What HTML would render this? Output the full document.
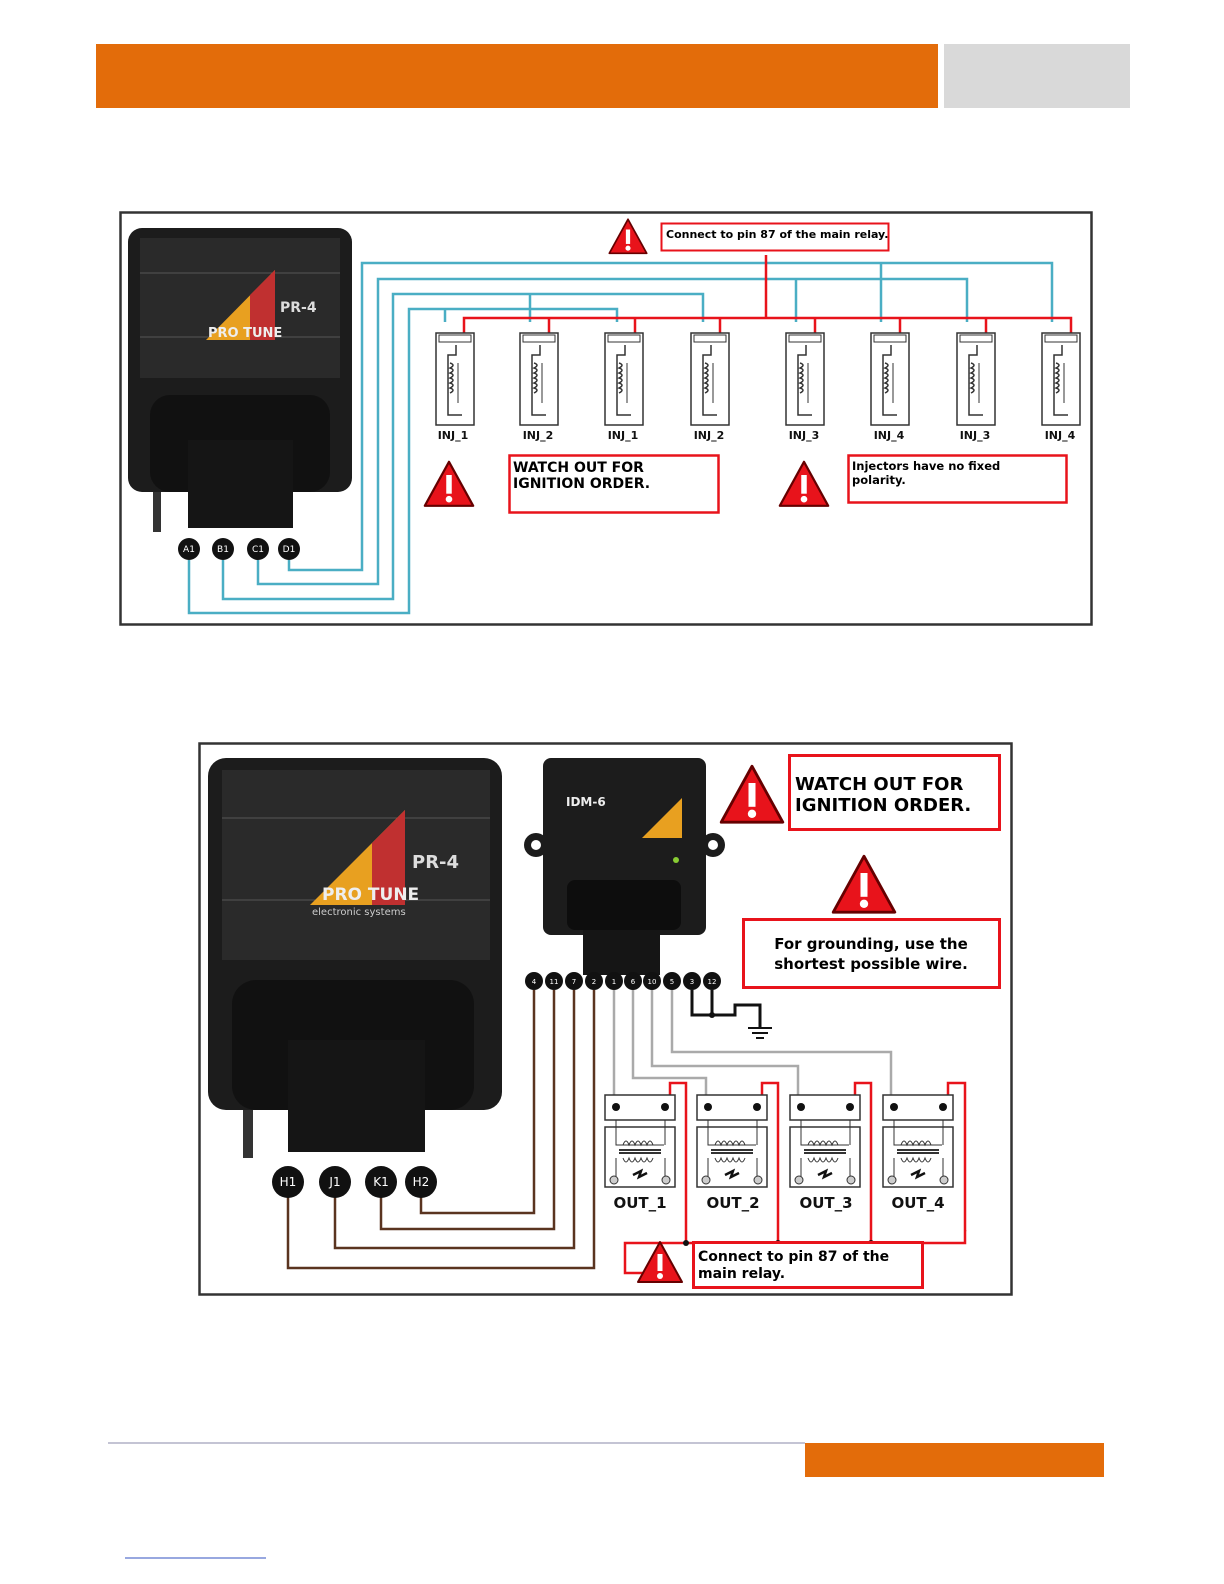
<!DOCTYPE html>
<html><head><meta charset="utf-8"><style>
body{margin:0;background:#fff;}
svg{display:block;font-family:"DejaVu Sans","Liberation Sans",sans-serif;}
</style></head><body>
<svg width="1224" height="1584" viewBox="0 0 1224 1584" xmlns="http://www.w3.org/2000/svg">
<defs>
<g id="tri"><path d="M0,-22 L22,18 L-22,18 Z" fill="#e8131b" stroke="#600" stroke-width="2" stroke-linejoin="round"/><rect x="-2.5" y="-10" width="5" height="17" fill="#fff"/><circle cx="0" cy="12" r="3" fill="#fff"/></g>
<g id="inj"><rect x="0" y="0" width="38" height="92" fill="#fff" stroke="#333" stroke-width="1.5"/><rect x="3" y="2" width="32" height="7" fill="#fff" stroke="#333"/><path d="M20,12 v10 h-8 v60 h14" fill="none" stroke="#333" stroke-width="1.5"/><path d="M14,30 q6,2 0,5 q6,2 0,5 q6,2 0,5 q6,2 0,5 q6,2 0,5 q6,2 0,5" fill="none" stroke="#333" stroke-width="1.5"/><line x1="22" y1="30" x2="22" y2="70" stroke="#333"/></g>
<g id="coil"><rect x="0" y="0" width="70" height="25" fill="#fff" stroke="#333" stroke-width="1.5"/><circle cx="11" cy="12" r="4" fill="#111"/><circle cx="60" cy="12" r="4" fill="#111"/><rect x="0" y="32" width="70" height="60" fill="#fff" stroke="#333" stroke-width="1.5"/><path d="M11,25 v25 h48 M60,25 v25" fill="none" stroke="#333"/><path d="M18,50 q3,-8 6,0 q3,-8 6,0 q3,-8 6,0 q3,-8 6,0 q3,-8 6,0" fill="none" stroke="#333"/><line x1="14" y1="55" x2="56" y2="55" stroke="#333" stroke-width="2"/><line x1="14" y1="58" x2="56" y2="58" stroke="#333" stroke-width="2"/><path d="M18,63 q3,8 6,0 q3,8 6,0 q3,8 6,0 q3,8 6,0 q3,8 6,0 M11,63 v20 M60,63 v20" fill="none" stroke="#333"/><circle cx="9" cy="85" r="4" fill="#ccc" stroke="#333"/><circle cx="61" cy="85" r="4" fill="#ccc" stroke="#333"/><path d="M28,80 l8,-4 l-2,6 l8,-4" fill="none" stroke="#111" stroke-width="2.5"/></g>
</defs>
<rect x="96" y="44" width="842" height="64" fill="#e36c0a"/>
<rect x="944" y="44" width="186" height="64" fill="#d9d9d9"/>

<!-- TOP DIAGRAM -->
<rect x="120.5" y="212.5" width="971" height="412" fill="#fff" stroke="#333" stroke-width="2.5"/>
<rect x="128" y="228" width="224" height="264" rx="14" fill="#1c1c1c"/>
<rect x="140" y="238" width="200" height="140" fill="#2a2a2a"/>
<line x1="140" y1="273" x2="340" y2="273" stroke="#555"/><line x1="140" y1="337" x2="340" y2="337" stroke="#555"/>
<path d="M206,340 L275,270 L275,340 Z" fill="#e8a020"/><path d="M250,295 L275,270 L275,340 L250,340Z" fill="#c03030"/>
<text x="208" y="337" font-size="13" font-weight="bold" fill="#eee">PRO TUNE</text>
<text x="280" y="312" font-size="14" font-weight="bold" fill="#ddd">PR-4</text>
<rect x="150" y="395" width="180" height="97" rx="20" fill="#111"/>
<rect x="188" y="440" width="105" height="88" fill="#151515"/>
<rect x="153" y="492" width="8" height="40" fill="#333"/>
<g fill="none" stroke="#4aaec4" stroke-width="2.5">
<path d="M289,560 V570 H362 V263 H1052 V322"/><path d="M881,263 V322"/>
<path d="M258,560 V584 H378 V279 H967 V322"/><path d="M796,279 V322"/>
<path d="M223,560 V599 H393 V294 H703 V322"/><path d="M530,294 V322"/>
<path d="M189,560 V613 H409 V309 H617 V322"/><path d="M445,309 V322"/>
</g>
<g fill="none" stroke="#e8131b" stroke-width="2.5">
<path d="M464,333 V318 H1071 V333"/><path d="M766,318 V255"/>
<path d="M549,318V333M635,318V333M720,318V333M815,318V333M900,318V333M986,318V333"/>
</g>
<g fill="#111"><circle cx="189" cy="549" r="11"/><circle cx="223" cy="549" r="11"/><circle cx="258" cy="549" r="11"/><circle cx="289" cy="549" r="11"/></g>
<g fill="#fff" font-size="9" text-anchor="middle"><text x="189" y="552">A1</text><text x="223" y="552">B1</text><text x="258" y="552">C1</text><text x="289" y="552">D1</text></g>
<use href="#inj" x="436" y="333"/><use href="#inj" x="520" y="333"/><use href="#inj" x="605" y="333"/><use href="#inj" x="691" y="333"/>
<use href="#inj" x="786" y="333"/><use href="#inj" x="871" y="333"/><use href="#inj" x="957" y="333"/><use href="#inj" x="1042" y="333"/>
<g font-size="11" font-weight="bold" text-anchor="middle" fill="#111"><text x="453" y="439">INJ_1</text><text x="538" y="439">INJ_2</text><text x="623" y="439">INJ_1</text><text x="709" y="439">INJ_2</text><text x="804" y="439">INJ_3</text><text x="889" y="439">INJ_4</text><text x="975" y="439">INJ_3</text><text x="1060" y="439">INJ_4</text></g>
<use href="#tri" transform="translate(628,238) scale(0.85)"/>
<use href="#tri" transform="translate(449,486) scale(1.1)"/>
<use href="#tri" transform="translate(804,486) scale(1.1)"/>
<rect x="661.5" y="223.5" width="227" height="27" fill="#fff" stroke="#e8131b" stroke-width="2"/>
<text x="666" y="238" font-size="11" font-weight="bold">Connect to pin 87 of the main relay.</text>
<rect x="509.5" y="455.5" width="209" height="57" fill="#fff" stroke="#e8131b" stroke-width="2.5"/>
<text x="513" y="472" font-size="14" font-weight="bold">WATCH OUT FOR</text><text x="513" y="488" font-size="14" font-weight="bold">IGNITION ORDER.</text>
<rect x="848.5" y="455.5" width="218" height="47" fill="#fff" stroke="#e8131b" stroke-width="2.5"/>
<text x="852" y="470" font-size="11.5" font-weight="bold">Injectors have no fixed</text><text x="852" y="484" font-size="11.5" font-weight="bold">polarity.</text>

<!-- BOTTOM DIAGRAM -->
<rect x="199.5" y="743.5" width="812" height="551" fill="#fff" stroke="#333" stroke-width="2.5"/>
<rect x="208" y="758" width="294" height="352" rx="18" fill="#1c1c1c"/>
<rect x="222" y="770" width="268" height="190" fill="#2a2a2a"/>
<line x1="222" y1="818" x2="490" y2="818" stroke="#555"/><line x1="222" y1="900" x2="490" y2="900" stroke="#555"/>
<path d="M310,905 L405,810 L405,905 Z" fill="#e8a020"/><path d="M372,843 L405,810 L405,905 L372,905Z" fill="#c03030"/>
<text x="322" y="900" font-size="17" font-weight="bold" fill="#eee">PRO TUNE</text>
<text x="412" y="868" font-size="18" font-weight="bold" fill="#ddd">PR-4</text>
<text x="312" y="915" font-size="10" fill="#ccc">electronic systems</text>
<rect x="232" y="980" width="242" height="130" rx="24" fill="#111"/>
<rect x="288" y="1040" width="137" height="112" fill="#151515"/>
<rect x="243" y="1110" width="10" height="48" fill="#333"/>
<rect x="543" y="758" width="163" height="177" rx="8" fill="#1c1c1c"/>
<circle cx="536" cy="845" r="12" fill="#1c1c1c"/><circle cx="713" cy="845" r="12" fill="#1c1c1c"/>
<circle cx="536" cy="845" r="5" fill="#fff"/><circle cx="713" cy="845" r="5" fill="#fff"/>
<text x="566" y="806" font-size="12" font-weight="bold" fill="#eee">IDM-6</text>
<path d="M642,838 L682,798 L682,838Z" fill="#e8a020"/>
<circle cx="676" cy="860" r="3" fill="#8c3"/>
<rect x="567" y="880" width="114" height="50" rx="8" fill="#0d0d0d"/>
<rect x="583" y="930" width="77" height="45" fill="#151515"/>
<g fill="none" stroke="#5a3420" stroke-width="2.5">
<path d="M534,990 V1213 H421 V1195"/><path d="M554,990 V1229 H381 V1195"/><path d="M574,990 V1248 H335 V1195"/><path d="M594,990 V1268 H288 V1195"/>
</g>
<g fill="none" stroke="#aaa" stroke-width="2.5">
<path d="M614,990 V1100"/><path d="M633,990 V1078 H706 V1100"/><path d="M652,990 V1066 H798 V1100"/><path d="M672,990 V1052 H891 V1100"/>
</g>
<g fill="none" stroke="#111" stroke-width="3"><path d="M692,990 V1015 H735 V1005 H760 V1028"/><path d="M712,990 V1015"/></g>
<circle cx="712" cy="1015" r="3" fill="#111"/>
<g stroke="#111" stroke-width="2"><line x1="748" y1="1028" x2="772" y2="1028"/><line x1="752" y1="1033" x2="768" y2="1033"/><line x1="756" y1="1038" x2="764" y2="1038"/></g>
<g fill="#111"><circle cx="534" cy="981" r="9"/><circle cx="554" cy="981" r="9"/><circle cx="574" cy="981" r="9"/><circle cx="594" cy="981" r="9"/><circle cx="614" cy="981" r="9"/><circle cx="633" cy="981" r="9"/><circle cx="652" cy="981" r="9"/><circle cx="672" cy="981" r="9"/><circle cx="692" cy="981" r="9"/><circle cx="712" cy="981" r="9"/></g>
<g fill="#fff" font-size="7" text-anchor="middle"><text x="534" y="984">4</text><text x="554" y="984">11</text><text x="574" y="984">7</text><text x="594" y="984">2</text><text x="614" y="984">1</text><text x="633" y="984">6</text><text x="652" y="984">10</text><text x="672" y="984">5</text><text x="692" y="984">3</text><text x="712" y="984">12</text></g>
<g fill="none" stroke="#e8131b" stroke-width="2.5">
<path d="M670,1095 V1083 H686 V1243"/><path d="M762,1095 V1083 H778 V1243"/><path d="M855,1095 V1083 H871 V1243"/><path d="M948,1095 V1083 H965 V1230 H964"/>
<path d="M965,1230 V1243 H625 V1273 H645"/>
</g>
<g fill="#111"><circle cx="686" cy="1243" r="3"/><circle cx="778" cy="1243" r="3"/><circle cx="871" cy="1243" r="3"/></g>
<use href="#coil" x="605" y="1095"/><use href="#coil" x="697" y="1095"/><use href="#coil" x="790" y="1095"/><use href="#coil" x="883" y="1095"/>
<g font-size="15" font-weight="bold" text-anchor="middle" fill="#111"><text x="640" y="1208">OUT_1</text><text x="733" y="1208">OUT_2</text><text x="826" y="1208">OUT_3</text><text x="918" y="1208">OUT_4</text></g>
<g fill="#111"><circle cx="288" cy="1182" r="16"/><circle cx="335" cy="1182" r="16"/><circle cx="381" cy="1182" r="16"/><circle cx="421" cy="1182" r="16"/></g>
<g fill="#fff" font-size="12" text-anchor="middle"><text x="288" y="1186">H1</text><text x="335" y="1186">J1</text><text x="381" y="1186">K1</text><text x="421" y="1186">H2</text></g>
<use href="#tri" transform="translate(752,797) scale(1.4)"/>
<use href="#tri" transform="translate(864,887) scale(1.4)"/>
<use href="#tri" transform="translate(660,1264) scale(1.0)"/>
<rect x="789.5" y="755.5" width="210" height="74" fill="#fff" stroke="#e8131b" stroke-width="3"/>
<text x="795" y="790" font-size="18" font-weight="bold">WATCH OUT FOR</text><text x="795" y="811" font-size="18" font-weight="bold">IGNITION ORDER.</text>
<rect x="743.5" y="919.5" width="256" height="68" fill="#fff" stroke="#e8131b" stroke-width="3"/>
<text x="871" y="949" font-size="15" font-weight="bold" text-anchor="middle">For grounding, use the</text><text x="871" y="969" font-size="15" font-weight="bold" text-anchor="middle">shortest possible wire.</text>
<rect x="693.5" y="1242.5" width="229" height="45" fill="#fff" stroke="#e8131b" stroke-width="3"/>
<text x="698" y="1261" font-size="14" font-weight="bold">Connect to pin 87 of the</text><text x="698" y="1278" font-size="14" font-weight="bold">main relay.</text>

<line x1="108" y1="1443" x2="805" y2="1443" stroke="#8a8aa8" stroke-width="1"/>
<rect x="805" y="1443" width="299" height="34" fill="#e36c0a"/>
<line x1="125" y1="1558" x2="266" y2="1558" stroke="#3050c0" stroke-width="1"/>
</svg>
</body></html>
